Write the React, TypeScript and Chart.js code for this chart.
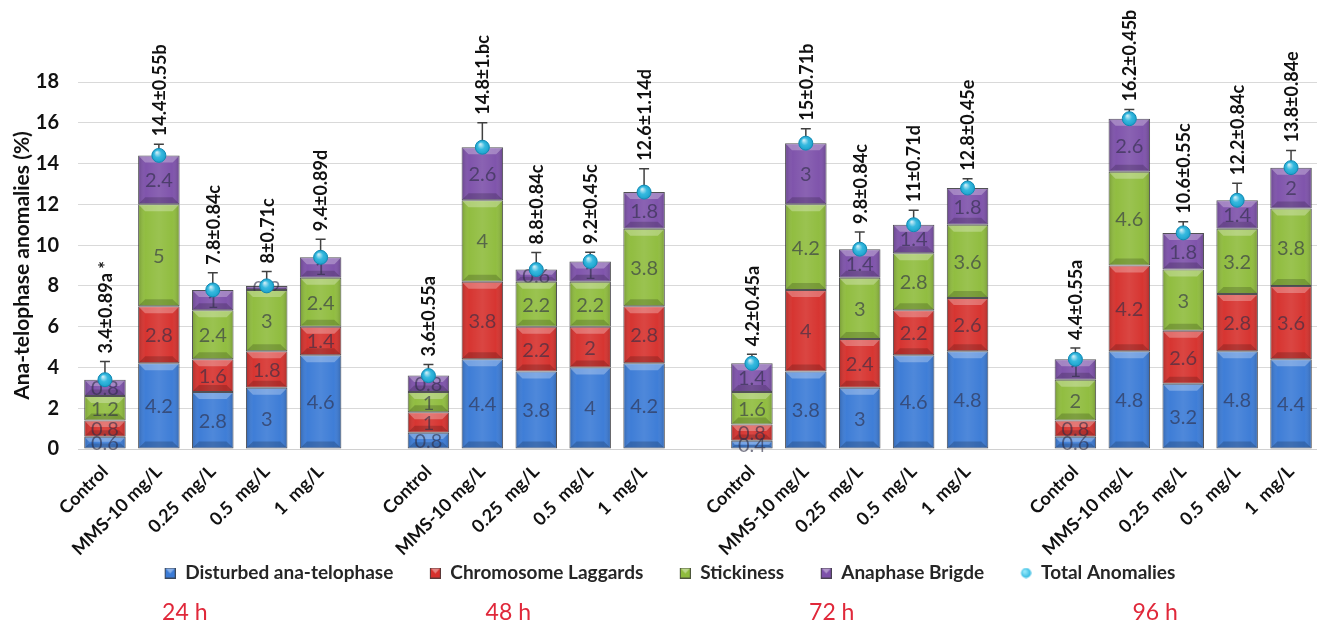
import React, { useEffect, useRef } from 'react';
import { Chart, registerables } from 'chart.js';

Chart.register(...registerables);

// ---------- data ----------
const timePoints = ['24 h', '48 h', '72 h', '96 h'];
const treatments = ['Control', 'MMS-10 mg/L', '0.25  mg/L', '0.5  mg/L', '1  mg/L'];

const disturbed = [0.6, 4.2, 2.8, 3, 4.6, 0.8, 4.4, 3.8, 4, 4.2, 0.4, 3.8, 3, 4.6, 4.8, 0.6, 4.8, 3.2, 4.8, 4.4];
const laggards = [0.8, 2.8, 1.6, 1.8, 1.4, 1, 3.8, 2.2, 2, 2.8, 0.8, 4, 2.4, 2.2, 2.6, 0.8, 4.2, 2.6, 2.8, 3.6];
const stickiness = [1.2, 5, 2.4, 3, 2.4, 1, 4, 2.2, 2.2, 3.8, 1.6, 4.2, 3, 2.8, 3.6, 2, 4.6, 3, 3.2, 3.8];
const bridge = [0.8, 2.4, 1, 0.2, 1, 0.8, 2.6, 0.6, 1, 1.8, 1.4, 3, 1.4, 1.4, 1.8, 1, 2.6, 1.8, 1.4, 2];
const totals = [3.4, 14.4, 7.8, 8, 9.4, 3.6, 14.8, 8.8, 9.2, 12.6, 4.2, 15, 9.8, 11, 12.8, 4.4, 16.2, 10.6, 12.2, 13.8];
const errors = [0.89, 0.55, 0.84, 0.71, 0.89, 0.55, 1.2, 0.84, 0.45, 1.14, 0.45, 0.71, 0.84, 0.71, 0.45, 0.55, 0.45, 0.55, 0.84, 0.84];
const totalLabels = [
  '3.4±0.89a *', '14.4±0.55b', '7.8±0.84c', '8±0.71c', '9.4±0.89d',
  '3.6±0.55a', '14.8±1.bc', '8.8±0.84c', '9.2±0.45c', '12.6±1.14d',
  '4.2±0.45a', '15±0.71b', '9.8±0.84c', '11±0.71d', '12.8±0.45e',
  '4.4±0.55a', '16.2±0.45b', '10.6±0.55c', '12.2±0.84c', '13.8±0.84e',
];
const yTicks = [0, 2, 4, 6, 8, 10, 12, 14, 16, 18];

const seriesNames = ['Disturbed ana-telophase', 'Chromosome Laggards', 'Stickiness', 'Anaphase Brigde', 'Total Anomalies'];
const seriesColors = ['#3B7BD6', '#D6312D', '#8FBC3D', '#7D51AA', '#1DB0DB'];

const GROUP = treatments.length;

function withGaps<T>(vals: T[]): (T | null)[] {
  const out: (T | null)[] = [];
  vals.forEach((v, i) => {
    if (i > 0 && i % GROUP === 0) out.push(null);
    out.push(v);
  });
  return out;
}

const categories = withGaps(timePoints.flatMap(() => treatments)).map((c) => (c == null ? '' : c));
const errorsG = withGaps(errors);
const labelsG = withGaps(totalLabels);

const FONT = 'Lato, "Open Sans", sans-serif';
const LEGEND_PAD = 4.5;
const ICON_MARGIN = 32;
const ICON = 11;
const SHIFT = 14;

function makeIcon(color: string, round: boolean): HTMLCanvasElement {
  const c = document.createElement('canvas');
  c.width = ICON + ICON_MARGIN;
  c.height = ICON;
  const g = c.getContext('2d')!;
  g.translate(ICON_MARGIN, 0);
  if (round) {
    const rg = g.createRadialGradient(4, 4, 1, 5.5, 5.5, 6);
    rg.addColorStop(0, '#8fe6fa');
    rg.addColorStop(1, color);
    g.fillStyle = rg;
    g.beginPath();
    g.arc(5.5, 5.5, 5, 0, Math.PI * 2);
    g.fill();
  } else {
    g.fillStyle = color;
    g.fillRect(0, 0, ICON, ICON);
    g.fillStyle = 'rgba(255,255,255,0.4)';
    g.beginPath();
    g.moveTo(1, 1); g.lineTo(10, 1); g.lineTo(5.5, 6); g.closePath();
    g.fill();
    g.strokeStyle = 'rgba(60,60,60,0.8)';
    g.lineWidth = 1;
    g.strokeRect(0.5, 0.5, 10, 10);
  }
  return c;
}

const decorPlugin = {
  id: 'decor',
  beforeDatasetDraw(chart: any, args: any) {
    const meta = args.meta;
    if (meta.type !== 'line') return;
    const ctx = chart.ctx;
    const y = chart.scales.y;
    ctx.save();
    ctx.strokeStyle = '#404040';
    ctx.lineWidth = 1.5;
    meta.data.forEach((pt: any, i: number) => {
      const e = errorsG[i];
      const raw = chart.data.datasets[args.index].data[i];
      if (e == null || raw == null) return;
      const top = y.getPixelForValue(raw + e);
      ctx.beginPath();
      ctx.moveTo(pt.x, pt.y);
      ctx.lineTo(pt.x, top);
      ctx.moveTo(pt.x - 5, top);
      ctx.lineTo(pt.x + 5, top);
      ctx.stroke();
    });
    ctx.restore();
  },
  afterDatasetDraw(chart: any, args: any) {
    const meta = args.meta;
    const ctx = chart.ctx;
    if (meta.type === 'line') {
      ctx.save();
      meta.data.forEach((pt: any, i: number) => {
        if (chart.data.datasets[args.index].data[i] == null) return;
        const rg = ctx.createRadialGradient(pt.x - 2, pt.y - 3, 0.5, pt.x, pt.y, 7);
        rg.addColorStop(0, 'rgba(255,255,255,0.75)');
        rg.addColorStop(0.5, 'rgba(255,255,255,0.1)');
        rg.addColorStop(1, 'rgba(0,60,90,0.15)');
        ctx.fillStyle = rg;
        ctx.beginPath();
        ctx.arc(pt.x, pt.y, 6.5, 0, Math.PI * 2);
        ctx.fill();
      });
      ctx.restore();
      return;
    }
    if (meta.type !== 'bar') return;
    const ds = chart.data.datasets[args.index];
    ctx.save();
    meta.data.forEach((el: any, i: number) => {
      const v = ds.data[i];
      if (v == null) return;
      const { x, y, base, width } = el.getProps(['x', 'y', 'base', 'width'], true);
      const left = x - width / 2;
      const top = Math.min(y, base);
      const h = Math.abs(base - y);
      if (h > 3) {
        const g = ctx.createLinearGradient(left, 0, left + width, 0);
        g.addColorStop(0, 'rgba(0,0,0,0.2)');
        g.addColorStop(0.18, 'rgba(255,255,255,0.02)');
        g.addColorStop(0.5, 'rgba(255,255,255,0.1)');
        g.addColorStop(0.82, 'rgba(255,255,255,0.02)');
        g.addColorStop(1, 'rgba(0,0,0,0.2)');
        ctx.fillStyle = g;
        ctx.fillRect(left + 1, top + 1, width - 2, h - 2);
        const b = Math.min(6, h / 3);
        ctx.fillStyle = 'rgba(255,255,255,0.28)';
        ctx.beginPath();
        ctx.moveTo(left + 1, top + 1);
        ctx.lineTo(left + width - 1, top + 1);
        ctx.lineTo(left + width - 1 - b, top + 1 + b);
        ctx.lineTo(left + 1 + b, top + 1 + b);
        ctx.closePath();
        ctx.fill();
        ctx.fillStyle = 'rgba(0,0,0,0.18)';
        ctx.beginPath();
        ctx.moveTo(left + 1, top + h - 1);
        ctx.lineTo(left + width - 1, top + h - 1);
        ctx.lineTo(left + width - 1 - b, top + h - 1 - b);
        ctx.lineTo(left + 1 + b, top + h - 1 - b);
        ctx.closePath();
        ctx.fill();
      }
      ctx.fillStyle = 'rgba(45,45,70,0.62)';
      ctx.font = `20px ${FONT}`;
      ctx.textAlign = 'center';
      ctx.textBaseline = 'middle';
      ctx.fillText(String(v), x, (y + base) / 2 + 1);
    });
    ctx.restore();
  },
  afterDatasetsDraw(chart: any) {
    const ctx = chart.ctx;
    const yScale = chart.scales.y;
    const xScale = chart.scales.x;
    const lineIdx = chart.data.datasets.length - 1;
    const meta = chart.getDatasetMeta(lineIdx);
    const data = chart.data.datasets[lineIdx].data;
    ctx.save();
    ctx.fillStyle = '#111';
    ctx.font = `bold 18px ${FONT}`;
    ctx.textAlign = 'left';
    ctx.textBaseline = 'middle';
    meta.data.forEach((pt: any, i: number) => {
      const v = data[i];
      const lab = labelsG[i];
      const e = errorsG[i];
      if (v == null || lab == null || e == null) return;
      const top = yScale.getPixelForValue(v + e);
      ctx.save();
      ctx.translate(pt.x + 1, top - 8);
      ctx.rotate(-Math.PI / 2);
      ctx.fillText(lab, 0, 0);
      ctx.restore();
    });
    // time point captions
    ctx.fillStyle = '#E0283A';
    ctx.font = `23px ${FONT}`;
    ctx.textAlign = 'center';
    ctx.textBaseline = 'middle';
    timePoints.forEach((t, g) => {
      const first = g * (GROUP + 1);
      const cx = (xScale.getPixelForValue(first) + xScale.getPixelForValue(first + GROUP - 1)) / 2;
      ctx.fillText(t, cx - 28, chart.height - 12);
    });
    ctx.restore();
  },
};

export default function App() {
  const ref = useRef<HTMLCanvasElement | null>(null);

  useEffect(() => {
    document.body.style.margin = '0';
    let chart: Chart | null = null;
    let cancelled = false;
    const build = () => {
      if (cancelled || !ref.current) return;
      const icons = seriesColors.map((c, i) => makeIcon(c, i === 4));
      const barSets = [disturbed, laggards, stickiness, bridge].map((arr, i) => ({
        type: 'bar' as const,
        label: seriesNames[i],
        data: withGaps(arr),
        backgroundColor: seriesColors[i],
        borderColor: 'rgba(50,50,55,0.85)',
        borderWidth: 1,
        borderSkipped: false,
        order: 1,
        stack: 'anomalies',
      }));
      chart = new Chart(ref.current, {
        data: {
          labels: categories,
          datasets: [
            ...barSets,
            {
              type: 'line' as const,
              label: seriesNames[4],
              data: withGaps(totals),
              showLine: false,
              pointRadius: 7,
              pointHoverRadius: 7,
              pointBackgroundColor: seriesColors[4],
              pointBorderColor: '#1289B3',
              pointBorderWidth: 1,
              backgroundColor: seriesColors[4],
              borderColor: '#1289B3',
              order: 0,
              stack: 'total',
            },
          ],
        } as any,
        options: {
          responsive: false,
          animation: false,
          layout: { padding: { left: 0, right: 4, top: 82, bottom: 32.5 } },
          datasets: { bar: { barPercentage: 0.77, categoryPercentage: 1 } },
          scales: {
            x: {
              stacked: true,
              grid: { display: false, drawTicks: false },
              border: { display: true, color: '#d0d0d0' },
              ticks: {
                autoSkip: false,
                maxRotation: 45,
                minRotation: 45,
                padding: 12,
                color: '#111',
                font: { family: FONT, size: 18, weight: 'bold' },
              },
              afterFit: (s: any) => { s.height = 110; },
            },
            y: {
              stacked: true,
              min: 0,
              max: 18,
              afterBuildTicks: (s: any) => { s.ticks = yTicks.map((v) => ({ value: v })); },
              grid: { color: '#d9d9d9', drawTicks: false },
              border: { display: false },
              ticks: {
                padding: 19,
                color: '#111',
                font: { family: FONT, size: 20, weight: 'bold' },
              },
              title: {
                display: true,
                text: 'Ana-telophase anomalies (%)',
                color: '#111',
                padding: { top: 10 + SHIFT, bottom: 0 },
                font: { family: FONT, size: 21, weight: 'bold' },
              },
              afterFit: (s: any) => { s.width = 78 + SHIFT; },
            },
          },
          plugins: {
            tooltip: { enabled: false },
            legend: {
              position: 'bottom',
              labels: {
                usePointStyle: true,
                pointStyleWidth: ICON + ICON_MARGIN,
                boxWidth: ICON + ICON_MARGIN,
                boxHeight: ICON,
                padding: LEGEND_PAD,
                color: '#262626',
                font: { family: FONT, size: 19, weight: 'bold' },
                generateLabels: (c: any) => {
                  const items = Chart.defaults.plugins.legend.labels.generateLabels(c);
                  items.sort((a: any, b: any) => a.datasetIndex - b.datasetIndex);
                  return items.map((it: any) => ({ ...it, pointStyle: icons[it.datasetIndex] }));
                },
              },
            },
          },
        } as any,
        plugins: [decorPlugin],
      });
    };
    const fontsReady = (document as any).fonts
      ? Promise.all([
          (document as any).fonts.load(`bold 17px Lato`),
          (document as any).fonts.load(`17px Lato`),
        ]).catch(() => null)
      : Promise.resolve(null);
    fontsReady.then(build);
    return () => {
      cancelled = true;
      if (chart) chart.destroy();
    };
  }, []);

  return (
    <div style={{ width: 1317, height: 625, overflow: 'hidden', position: 'relative', background: '#fff' }}>
      <canvas
        ref={ref}
        width={1326 + SHIFT}
        height={625}
        style={{ display: 'block', marginLeft: -SHIFT }}
      />
    </div>
  );
}
